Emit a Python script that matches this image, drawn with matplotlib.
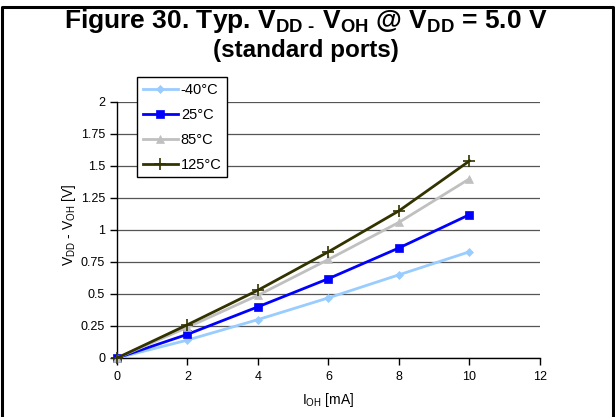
import matplotlib
matplotlib.use("Agg")
import matplotlib.pyplot as plt
from matplotlib.lines import Line2D

plt.rcParams['font.family'] = ['Liberation Sans', 'DejaVu Sans']
plt.rcParams['mathtext.fontset'] = 'custom'
plt.rcParams['mathtext.rm'] = 'Liberation Sans'
plt.rcParams['mathtext.bf'] = 'Liberation Sans:bold'

x_ma = [0, 2, 4, 6, 8, 10]
labels = ['-40°C', '25°C', '85°C', '125°C']
v_m40 = [0, 0.14, 0.30, 0.47, 0.65, 0.83]
v_25 = [0, 0.185, 0.40, 0.62, 0.86, 1.12]
v_85 = [0, 0.24, 0.49, 0.77, 1.06, 1.40]
v_125 = [0, 0.26, 0.53, 0.83, 1.15, 1.54]
series = [v_m40, v_25, v_85, v_125]
colors = ['#99CCFF', '#0000FF', '#C0C0C0', '#333300']
markers = ['D', 's', '^', '+']
msizes = [4, 6, 6, 9]

fig = plt.figure(figsize=(6.15, 4.17), dpi=100)
ax = fig.add_axes([117/615, 1-358/417, (540-117)/615, (358-102)/417])

for ys, c, m, ms, lab in zip(series, colors, markers, msizes, labels):
    ax.plot(x_ma, ys, color=c, marker=m, markersize=ms, linewidth=2,
            markeredgewidth=1.2 if m == '+' else 0.5, markeredgecolor=c,
            label=lab, clip_on=False, zorder=3)

ax.set_xlim(0, 12)
ax.set_ylim(0, 2)
ax.set_xticks(range(0, 13, 2))
yt = [0, 0.25, 0.5, 0.75, 1, 1.25, 1.5, 1.75, 2]
ax.set_yticks(yt)
ax.set_yticklabels(['0', '0.25', '0.5', '0.75', '1', '1.25', '1.5', '1.75', '2'])
ax.yaxis.grid(True, color='#555555', linewidth=0.9)
ax.set_axisbelow(True)
for s in ['top', 'right']:
    ax.spines[s].set_visible(False)
for s in ['left', 'bottom']:
    ax.spines[s].set_color('black')
    ax.spines[s].set_linewidth(1.0)
ax.tick_params(axis='both', direction='out', length=5, width=1, labelsize=9, color='black')
ax.tick_params(axis='x', pad=4)

ax.set_xlabel('I$_{\\mathregular{OH}}$ [mA]', fontsize=10)
ax.xaxis.set_label_coords((328-117)/423, (358-400)/256)
ax.xaxis.label.set_va('center')
ax.set_ylabel('V$_{\\mathregular{DD}}$ - V$_{\\mathregular{OH}}$ [V]', fontsize=10)
ax.yaxis.set_label_coords((69-117)/423, (358-225)/256)
ax.yaxis.label.set_va('center')

leg = ax.legend(loc='upper left', bbox_to_anchor=(137/615, 1-77/417),
                bbox_transform=fig.transFigure, fontsize=10.5, frameon=True,
                fancybox=False, edgecolor='black', framealpha=1,
                handlelength=2.4, handletextpad=0.2, borderpad=0.4,
                labelspacing=0.75, borderaxespad=0)
leg.get_frame().set_linewidth(1.0)
leg.set_zorder(5)

fig.text(0.497, 1-21/417,
         'Figure 30. Typ. V$_{\\mathbf{DD}\\ \\mathbf{\u2010}}$ V$_{\\mathbf{OH}}$ @ V$_{\\mathbf{DD}}$ = 5.0 V',
         ha='center', va='center', fontsize=19, fontweight='bold')
fig.text(0.497, 1-50/417, '(standard ports)', ha='center', va='center',
         fontsize=17.5, fontweight='bold')

# outer border
bx = [1.5/615, 1.5/615, 613/615, 613/615]
by = [0, 1-6.5/417, 1-6.5/417, 0]
fig.add_artist(Line2D(bx, by, transform=fig.transFigure, color='black', linewidth=2.2))

fig.savefig('out.png', dpi=100)
